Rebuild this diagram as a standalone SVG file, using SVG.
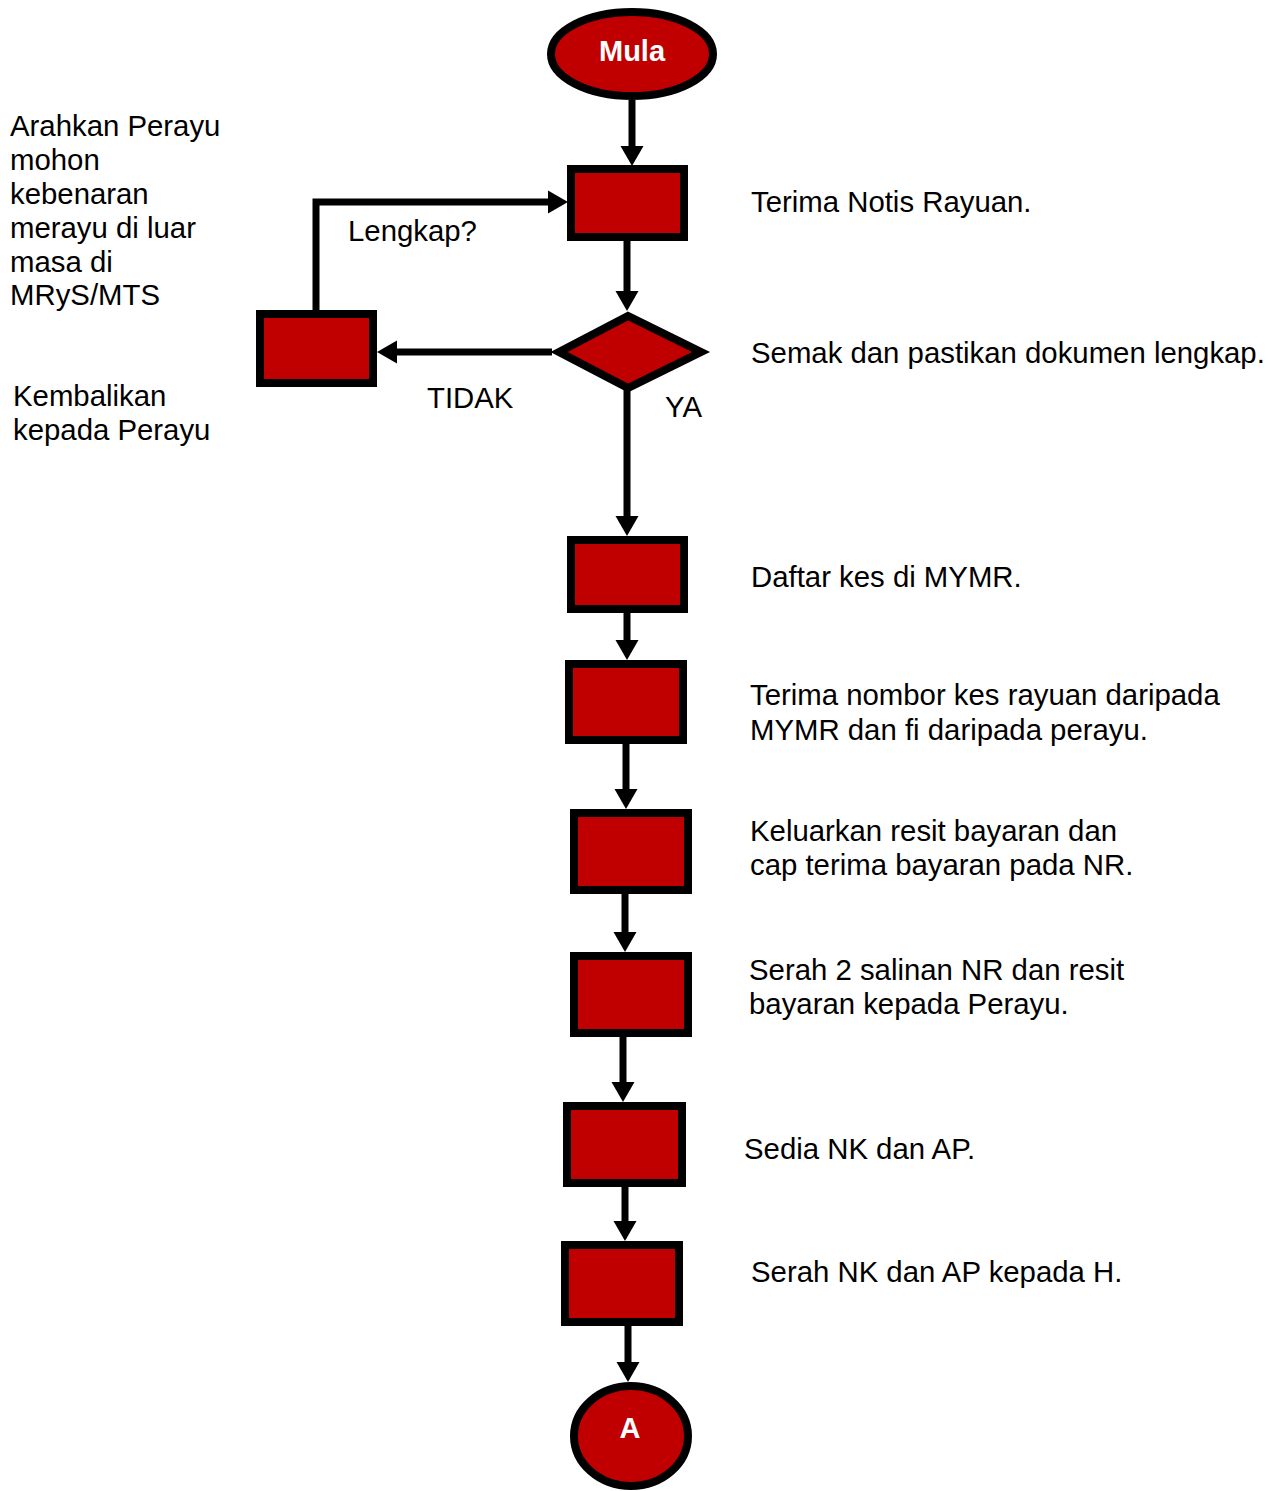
<svg xmlns="http://www.w3.org/2000/svg" width="1273" height="1491" viewBox="0 0 1273 1491">
<defs>
<style>
.n{fill:#C00000;stroke:#000;stroke-width:8}
.c{fill:none;stroke:#000;stroke-width:7;marker-end:url(#ah)}
.t{font-family:"Liberation Sans",Arial,sans-serif;font-size:29.35px;fill:#000}
.w{font-family:"Liberation Sans",Arial,sans-serif;font-size:29px;font-weight:bold;fill:#fff;text-anchor:middle}
</style>
<marker id="ah" markerUnits="userSpaceOnUse" markerWidth="22" markerHeight="24" refX="10" refY="12" orient="auto" viewBox="0 0 22 24">
<path d="M0,0.5 L20,12 L0,23.5 Z" fill="#000"/>
</marker>
</defs>
<rect width="1273" height="1491" fill="#fff"/>
<g id="connectors">
<line class="c" x1="632" y1="100" x2="632" y2="156"/>
<line class="c" x1="627" y1="241" x2="627" y2="301"/>
<line class="c" x1="552" y1="352" x2="387" y2="352"/>
<path class="c" d="M316,310 V202 H558"/>
<line class="c" x1="627" y1="390" x2="627" y2="526"/>
<line class="c" x1="627" y1="613" x2="627" y2="650"/>
<line class="c" x1="626" y1="744" x2="626" y2="799"/>
<line class="c" x1="625" y1="894" x2="625" y2="942"/>
<line class="c" x1="623" y1="1037" x2="623" y2="1092"/>
<line class="c" x1="625" y1="1187" x2="625" y2="1231"/>
<line class="c" x1="628" y1="1326" x2="628" y2="1372"/>
</g>
<g id="mula"><ellipse class="n" cx="632" cy="54" rx="81" ry="42"/><text class="w" x="632" y="61">Mula</text></g>
<g id="terima-notis"><rect class="n" x="571" y="169" width="113" height="68"/><text class="t" x="751" y="212">Terima Notis Rayuan.</text></g>
<g id="semak"><polygon class="n" points="559,352 628,316 701,352 628,388"/><text class="t" x="751" y="363">Semak dan pastikan dokumen lengkap.</text></g>
<g id="kembalikan"><rect class="n" x="260" y="314" width="113" height="69"/>
<text class="t" x="13" y="406">Kembalikan</text><text class="t" x="13" y="440">kepada Perayu</text>
<text class="t" x="10" y="136">Arahkan Perayu</text>
<text class="t" x="10" y="170">mohon</text>
<text class="t" x="10" y="204">kebenaran</text>
<text class="t" x="10" y="238">merayu di luar</text>
<text class="t" x="10" y="272">masa di</text>
<text class="t" x="10" y="305">MRyS/MTS</text></g>
<g id="labels">
<text class="t" x="348" y="241">Lengkap?</text>
<text class="t" x="427" y="408">TIDAK</text>
<text class="t" x="665" y="417">YA</text>
</g>
<g id="daftar"><rect class="n" x="571" y="540" width="113" height="69"/><text class="t" x="751" y="587">Daftar kes di MYMR.</text></g>
<g id="terima-nombor"><rect class="n" x="569" y="664" width="114" height="76"/><text class="t" x="750" y="705">Terima nombor kes rayuan daripada</text><text class="t" x="750" y="740">MYMR dan fi daripada perayu.</text></g>
<g id="keluarkan"><rect class="n" x="574" y="813" width="114" height="77"/><text class="t" x="750" y="841">Keluarkan resit bayaran dan</text><text class="t" x="750" y="875">cap terima bayaran pada NR.</text></g>
<g id="serah-salinan"><rect class="n" x="574" y="956" width="114" height="77"/><text class="t" x="749" y="980">Serah 2 salinan NR dan resit</text><text class="t" x="749" y="1014">bayaran kepada Perayu.</text></g>
<g id="sedia"><rect class="n" x="567" y="1106" width="115" height="77"/><text class="t" x="744" y="1159">Sedia NK dan AP.</text></g>
<g id="serah-nk"><rect class="n" x="565" y="1245" width="114" height="77"/><text class="t" x="751" y="1282">Serah NK dan AP kepada H.</text></g>
<g id="a"><ellipse class="n" cx="631" cy="1436" rx="57" ry="50"/><text class="w" x="630" y="1438">A</text></g>
</svg>
